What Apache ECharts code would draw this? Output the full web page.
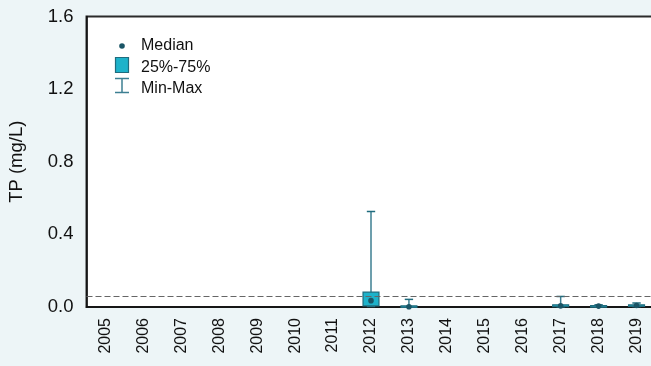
<!DOCTYPE html>
<html>
<head>
<meta charset="utf-8">
<script src="https://cdn.jsdelivr.net/npm/echarts@6/dist/echarts.min.js"></script>
<style>
  html, body { margin: 0; padding: 0; background: #EDF5F7; }
  #chart { width: 651px; height: 366px; }
</style>
</head>
<body>
<div id="chart"></div>
<script>
// Sampling years along the x axis
var years = ['2005', '2006', '2007', '2008', '2009', '2010', '2011', '2012',
             '2013', '2014', '2015', '2016', '2017', '2018', '2019'];

// Summary statistics of TP (mg/L) per year; null where no samples were taken
var tpMin    = [null, null, null, null, null, null, null, 0.003, 0.000, null, null, null, 0.001, 0.001, 0.002];
var tpQ1     = [null, null, null, null, null, null, null, 0.006, 0.001, null, null, null, 0.002, 0.002, 0.004];
var tpMedian = [null, null, null, null, null, null, null, 0.035, 0.001, null, null, null, 0.006, 0.005, 0.008];
var tpQ3     = [null, null, null, null, null, null, null, 0.082, 0.006, null, null, null, 0.012, 0.008, 0.012];
var tpMax    = [null, null, null, null, null, null, null, 0.526, 0.042, null, null, null, 0.058, 0.012, 0.022];

// Guideline value drawn as a dashed reference line
var guideline = 0.06;

// Y axis tick values
var yTicks = [0, 0.4, 0.8, 1.2, 1.6];

var boxData = [];
years.forEach(function (y, i) {
  if (tpMedian[i] !== null) {
    boxData.push([i, tpMin[i], tpQ1[i], tpMedian[i], tpQ3[i], tpMax[i]]);
  }
});

var FILL = '#1DB2CA';
var EDGE = '#1F6C7E';
var WHISKER = '#3C7F92';
var DOT = '#1A5566';
var FONT = '"Liberation Sans", Arial, sans-serif';

var chart = echarts.init(document.getElementById('chart'), null, { renderer: 'canvas' });

chart.setOption({
  backgroundColor: '#EDF5F7',
  animation: false,
  textStyle: { fontFamily: FONT },
  grid: {
    left: 86.5, top: 16.5, width: 569, height: 290.5,
    outerBoundsMode: 'none',
    containLabel: false,
    show: true, backgroundColor: '#ffffff',
    borderColor: '#2b2b2b', borderWidth: 2
  },
  xAxis: {
    type: 'category',
    data: years,
    boundaryGap: true,
    axisLine: { lineStyle: { color: '#111', width: 1.5 } },
    axisTick: { show: false },
    axisLabel: {
      rotate: 90, color: '#111', fontSize: 16, margin: 11,
      fontFamily: FONT, interval: 0
    }
  },
  yAxis: {
    type: 'value',
    min: yTicks[0], max: yTicks[yTicks.length - 1], interval: 0.4,
    name: 'TP (mg/L)',
    nameLocation: 'middle',
    nameGap: 60,
    nameTextStyle: { color: '#111', fontSize: 18.5, fontFamily: FONT },
    splitLine: { show: false },
    axisTick: { show: false },
    axisLine: { show: true, lineStyle: { color: '#111', width: 1.5 } },
    axisLabel: {
      color: '#111', fontSize: 18.5, margin: 13, fontFamily: FONT,
      formatter: function (v) { return v.toFixed(1); }
    }
  },
  series: [{
    type: 'custom',
    data: boxData,
    encode: { x: 0, y: [1, 2, 3, 4, 5] },
    renderItem: function (params, api) {
      var x = api.value(0);
      var pMin = api.coord([x, api.value(1)]);
      var pQ1 = api.coord([x, api.value(2)]);
      var pMed = api.coord([x, api.value(3)]);
      var pQ3 = api.coord([x, api.value(4)]);
      var pMax = api.coord([x, api.value(5)]);
      var band = api.size([1, 0])[0];
      var bw = band * 0.42;
      var cw = band * 0.22;
      var cx = pMed[0];
      return {
        type: 'group',
        children: [
          { type: 'line', shape: { x1: cx, y1: pMin[1], x2: cx, y2: pMax[1] },
            style: { stroke: WHISKER, lineWidth: 1.5 } },
          { type: 'line', shape: { x1: cx - cw / 2, y1: pMax[1], x2: cx + cw / 2, y2: pMax[1] },
            style: { stroke: EDGE, lineWidth: 1.5 } },
          { type: 'line', shape: { x1: cx - cw / 2, y1: pMin[1], x2: cx + cw / 2, y2: pMin[1] },
            style: { stroke: EDGE, lineWidth: 1.5 } },
          { type: 'rect', shape: { x: cx - bw / 2, y: pQ3[1], width: bw, height: Math.max(pQ1[1] - pQ3[1], 1.5) },
            style: { fill: FILL, stroke: EDGE, lineWidth: 1.2 } },
          { type: 'circle', shape: { cx: cx, cy: pMed[1], r: 2.8 },
            style: { fill: DOT } }
        ]
      };
    },
    markLine: {
      silent: true,
      symbol: 'none',
      label: { show: false },
      lineStyle: { color: '#666', type: [6, 3], width: 1.2 },
      data: [{ yAxis: guideline }]
    },
    z: 3
  }],
  graphic: [
    { type: 'circle', shape: { cx: 122, cy: 46, r: 2.8 }, style: { fill: DOT } },
    { type: 'rect', shape: { x: 115.5, y: 57.5, width: 13, height: 15 },
      style: { fill: FILL, stroke: EDGE, lineWidth: 1.2 } },
    { type: 'line', shape: { x1: 115, y1: 78.5, x2: 129, y2: 78.5 }, style: { stroke: WHISKER, lineWidth: 1.5 } },
    { type: 'line', shape: { x1: 122, y1: 78.5, x2: 122, y2: 92.5 }, style: { stroke: WHISKER, lineWidth: 1.5 } },
    { type: 'line', shape: { x1: 115, y1: 92.5, x2: 129, y2: 92.5 }, style: { stroke: WHISKER, lineWidth: 1.5 } },
    { type: 'text', left: 141, top: 38, style: { text: 'Median', fill: '#111', font: '16px ' + FONT } },
    { type: 'text', left: 141, top: 60, style: { text: '25%-75%', fill: '#111', font: '16px ' + FONT } },
    { type: 'text', left: 141, top: 81, style: { text: 'Min-Max', fill: '#111', font: '16px ' + FONT } }
  ]
});
</script>
</body>
</html>
